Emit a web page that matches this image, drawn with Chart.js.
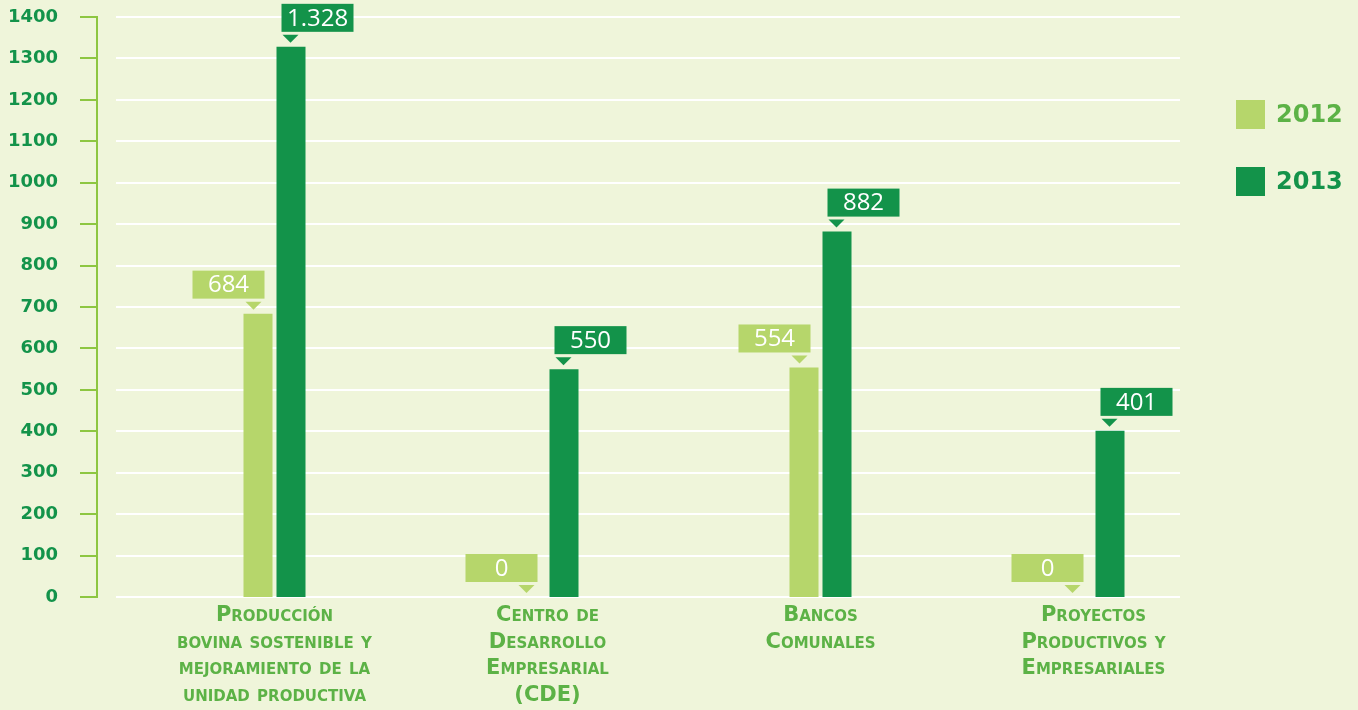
<!DOCTYPE html>
<html>
<head>
<meta charset="utf-8">
<script src="https://cdn.jsdelivr.net/npm/chart.js@4/dist/chart.umd.min.js"></script>
<style>
  html, body { margin: 0; padding: 0; background: #eff5da; }
  #wrap { width: 1358px; height: 710px; }
</style>
</head>
<body>
<div id="wrap"><canvas id="chart"></canvas></div>
<script>
const categories = [
  ["Producción", "bovina sostenible y", "mejoramiento de la", "unidad productiva"],
  ["Centro de", "Desarrollo", "Empresarial", "(CDE)"],
  ["Bancos", "Comunales"],
  ["Proyectos", "Productivos y", "Empresariales"]
];
const years = ["2012", "2013"];
const values2012 = [684, 0, 554, 0];
const values2013 = [1328, 550, 882, 401];
const yTicks = [0, 100, 200, 300, 400, 500, 600, 700, 800, 900, 1000, 1100, 1200, 1300, 1400];

const lightGreen = "#b6d66b";
const darkGreen = "#13934a";
const labelGreen = "#5cb246";
const axisGreen = "#8dc641";

function fmt(v) {
  return String(v).replace(/\B(?=(\d{3})+(?!\d))/g, ".");
}

// white grid lines and the green y axis with its ticks
const axisPlugin = {
  id: "axisPlugin",
  beforeDatasetsDraw(chart) {
    const ctx = chart.ctx;
    const y = chart.scales.y;
    ctx.save();
    ctx.strokeStyle = "#ffffff";
    ctx.lineWidth = 2;
    yTicks.forEach(t => {
      const py = Math.round(y.getPixelForValue(t));
      ctx.beginPath();
      ctx.moveTo(116, py);
      ctx.lineTo(1180, py);
      ctx.stroke();
    });
    ctx.strokeStyle = axisGreen;
    ctx.beginPath();
    ctx.moveTo(97, y.getPixelForValue(1400) - 1);
    ctx.lineTo(97, y.getPixelForValue(0) + 1);
    ctx.stroke();
    yTicks.forEach(t => {
      const py = Math.round(y.getPixelForValue(t));
      ctx.beginPath();
      ctx.moveTo(80, py);
      ctx.lineTo(98, py);
      ctx.stroke();
    });
    ctx.restore();
  }
};

// value boxes with a little pointer above each bar
const valueBoxes = {
  id: "valueBoxes",
  afterDatasetsDraw(chart) {
    const ctx = chart.ctx;
    ctx.save();
    chart.data.datasets.forEach((ds, di) => {
      const meta = chart.getDatasetMeta(di);
      meta.data.forEach((bar, i) => {
        const w = bar.width;
        const top = bar.y;
        let left, tri;
        if (di === 0) {
          left = bar.x + w / 2 - 8 - 72;
          tri = bar.x - 4.5;
        } else {
          left = bar.x - w / 2 + 5;
          tri = bar.x - 0.5;
        }
        const bottom = top - 15;
        ctx.fillStyle = ds.backgroundColor;
        ctx.fillRect(left, bottom - 28, 72, 28);
        ctx.beginPath();
        ctx.moveTo(tri - 8, top - 12);
        ctx.lineTo(tri + 8, top - 12);
        ctx.lineTo(tri, top - 4);
        ctx.closePath();
        ctx.fill();
        ctx.fillStyle = "#ffffff";
        ctx.font = "24px 'Open Sans'";
        ctx.textAlign = "center";
        ctx.textBaseline = "middle";
        ctx.fillText(fmt(ds.data[i]), left + 36, bottom - 13);
      });
    });
    ctx.restore();
  }
};

// category names in small caps under the axis
const catLabels = {
  id: "catLabels",
  afterDraw(chart) {
    const ctx = chart.ctx;
    const x = chart.scales.x;
    ctx.save();
    ctx.fillStyle = labelGreen;
    ctx.font = "bold 21px 'DejaVu Sans'";
    ctx.fontVariantCaps = "small-caps";
    ctx.textAlign = "center";
    ctx.textBaseline = "middle";
    categories.forEach((lines, i) => {
      const cx = x.getPixelForTick(i);
      lines.forEach((t, j) => {
        ctx.fillText(t, cx, 616 + j * 26.5);
      });
    });
    ctx.restore();
  }
};

const sideLegend = {
  id: "sideLegend",
  afterDraw(chart) {
    const ctx = chart.ctx;
    const textColors = [labelGreen, darkGreen];
    ctx.save();
    chart.data.datasets.forEach((ds, i) => {
      const top = 100 + i * 67;
      ctx.fillStyle = ds.backgroundColor;
      ctx.fillRect(1236, top, 29, 29);
      ctx.fillStyle = textColors[i];
      ctx.font = "bold 24px 'DejaVu Sans'";
      ctx.textAlign = "left";
      ctx.textBaseline = "middle";
      ctx.fillText(ds.label, 1276, top + 16);
    });
    ctx.restore();
  }
};

new Chart(document.getElementById("chart"), {
  type: "bar",
  data: {
    labels: categories.map(c => c.join(" ")),
    datasets: [
      { label: years[0], data: values2012, backgroundColor: lightGreen },
      { label: years[1], data: values2013, backgroundColor: darkGreen }
    ]
  },
  options: {
    responsive: true,
    maintainAspectRatio: false,
    animation: false,
    devicePixelRatio: 1,
    categoryPercentage: 66 / 273,
    barPercentage: 29 / 33,
    layout: { padding: { top: 17, right: 128, left: 0, bottom: 0 } },
    plugins: {
      legend: { display: false },
      tooltip: { enabled: false }
    },
    scales: {
      x: {
        grid: { display: false },
        border: { display: false },
        ticks: { display: false },
        afterFit(scale) { scale.height = 113; }
      },
      y: {
        min: 0,
        max: 1400,
        afterFit(scale) {
          scale.width = 138;
          scale.paddingTop = 10;
          scale.paddingBottom = 10;
        },
        afterBuildTicks(scale) { scale.ticks = yTicks.map(v => ({ value: v })); },
        grid: { display: false, drawTicks: false },
        border: { display: false },
        ticks: {
          color: darkGreen,
          padding: 80,
          callback: v => String(v),
          font: { family: "DejaVu Sans", size: 18, weight: "bold" }
        }
      }
    }
  },
  plugins: [axisPlugin, valueBoxes, catLabels, sideLegend]
});
</script>
</body>
</html>
